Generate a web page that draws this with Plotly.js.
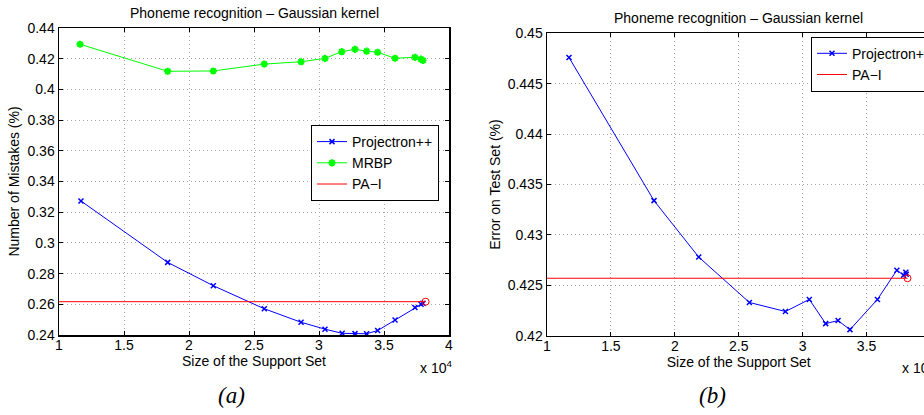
<!DOCTYPE html>
<html>
<head>
<meta charset="utf-8">
<script src="https://cdn.plot.ly/plotly-3.0.1.min.js"></script>
<style>
html, body { margin:0; padding:0; overflow:hidden; background:#fff; }
#chart { width:940px; height:415px; }
</style>
</head>
<body>
<div id="chart"></div>
<script>
// ---- Data (support set sizes, raw units) ----
const projX_a = [11690, 18360, 21870, 25790, 28620, 30460, 31780, 32770, 33660, 34510, 35850, 37380, 37850, 38000];
const proj_a  = [0.3273, 0.2873, 0.2721, 0.2571, 0.2483, 0.2438, 0.2411, 0.2409, 0.2408, 0.2429, 0.2498, 0.2579, 0.2600, 0.2607];
const mrbpX_a = [11620, 18360, 21870, 25790, 28620, 30460, 31750, 32770, 33660, 34510, 35850, 37380, 37850, 38000];
const mrbp_a  = [0.4294, 0.4118, 0.4120, 0.4165, 0.4180, 0.4202, 0.4246, 0.4261, 0.4249, 0.4242, 0.4203, 0.4209, 0.4197, 0.4189];
const paX_a   = [10000, 38200];
const pa_a    = [0.2617, 0.2617];

const projX_b = [11720, 18370, 21870, 25830, 28650, 30520, 31800, 32770, 33700, 35850, 37370, 37890, 38070, 38100];
const proj_b  = [0.4476, 0.4334, 0.4278, 0.4233, 0.4224, 0.4236, 0.4212, 0.4215, 0.4206, 0.4236, 0.4265, 0.4260, 0.4263, 0.4261];
const paX_b   = [10000, 38200];
const pa_b    = [0.4257, 0.4257];

// ---- Tick labels ----
const xTickVals_a = [10000, 15000, 20000, 25000, 30000, 35000, 40000];
const xTickText_a = ['1', '1.5', '2', '2.5', '3', '3.5', '4'];
const xTickVals_b = [10000, 15000, 20000, 25000, 30000, 35000];
const xTickText_b = ['1', '1.5', '2', '2.5', '3', '3.5'];
const yTickVals_a = [0.24, 0.26, 0.28, 0.30, 0.32, 0.34, 0.36, 0.38, 0.40, 0.42, 0.44];
const yTickText_a = ['0.24', '0.26', '0.28', '0.3', '0.32', '0.34', '0.36', '0.38', '0.4', '0.42', '0.44'];
const yTickVals_b = [0.42, 0.425, 0.43, 0.435, 0.44, 0.445, 0.45];
const yTickText_b = ['0.42', '0.425', '0.43', '0.435', '0.44', '0.445', '0.45'];

const FONT = 'Liberation Sans, Arial, Helvetica, sans-serif';
const W = 940, H = 415;

const blue = '#0000ff', green = '#00ff00', red = '#ff0000';

const traces = [
  { x: projX_a, y: proj_a, name: 'Projectron++', mode: 'lines+markers', xaxis: 'x', yaxis: 'y', legend: 'legend',
    line: { color: blue, width: 1 }, marker: { symbol: 'x-thin-open', size: 5, color: blue, line: { color: blue, width: 1.5 } } },
  { x: mrbpX_a, y: mrbp_a, name: 'MRBP', mode: 'lines+markers', xaxis: 'x', yaxis: 'y', legend: 'legend',
    line: { color: green, width: 1 }, marker: { symbol: 'asterisk-open', size: 6, color: green, line: { color: green, width: 2 } } },
  { x: paX_a, y: pa_a, name: 'PA\u2212I', mode: 'lines', xaxis: 'x', yaxis: 'y', legend: 'legend',
    line: { color: red, width: 1 } },
  { x: [paX_a[1]], y: [pa_a[1]], name: 'PA\u2212I', mode: 'markers', xaxis: 'x', yaxis: 'y', showlegend: false,
    marker: { symbol: 'circle-open', size: 7, color: red, line: { color: red, width: 1 } } },

  { x: projX_b, y: proj_b, name: 'Projectron++', mode: 'lines+markers', xaxis: 'x2', yaxis: 'y2', legend: 'legend2',
    line: { color: blue, width: 1 }, marker: { symbol: 'x-thin-open', size: 5, color: blue, line: { color: blue, width: 1.5 } } },
  { x: paX_b, y: pa_b, name: 'PA\u2212I', mode: 'lines', xaxis: 'x2', yaxis: 'y2', legend: 'legend2',
    line: { color: red, width: 1 } },
  { x: [paX_b[1]], y: [pa_b[1]], name: 'PA\u2212I', mode: 'markers', xaxis: 'x2', yaxis: 'y2', showlegend: false,
    marker: { symbol: 'circle-open', size: 7, color: red, line: { color: red, width: 1 } } }
];

function xAxis(dom, tv, tt) {
  return {
    domain: dom, range: [10000, 40000], tickmode: 'array', tickvals: tv, ticktext: tt,
    showline: true, linecolor: '#000', linewidth: 1.5, mirror: 'ticks', ticks: 'inside', ticklen: 4, tickcolor: '#000',
    showgrid: true, gridcolor: '#a8a8a8', griddash: '1px,3px', gridwidth: 1, zeroline: false,
    tickfont: { family: FONT, size: 14, color: '#000' }, ticklabelstandoff: -3,
    title: { text: 'Size of the Support Set', font: { family: FONT, size: 14, color: '#000' }, standoff: 0 },
    automargin: false
  };
}
function yAxis(dom, range, tv, tt, title, anchor) {
  return {
    domain: dom, range: range, tickmode: 'array', tickvals: tv, ticktext: tt, anchor: anchor,
    showline: true, linecolor: '#000', linewidth: 1.5, mirror: 'ticks', ticks: 'inside', ticklen: 4, tickcolor: '#000',
    showgrid: true, gridcolor: '#a8a8a8', griddash: '1px,3px', gridwidth: 1, zeroline: false,
    tickfont: { family: FONT, size: 14, color: '#000' },
    title: { text: title, font: { family: FONT, size: 14, color: '#000' }, standoff: 4 },
    automargin: false
  };
}

const layout = {
  width: W, height: H,
  margin: { l: 0, r: 0, t: 0, b: 0 },
  paper_bgcolor: '#fff', plot_bgcolor: '#fff',
  font: { family: FONT, size: 14, color: '#000' },
  xaxis: Object.assign(xAxis([59 / W, 449 / W], xTickVals_a, xTickText_a), { anchor: 'y' }),
  yaxis: yAxis([80 / H, 387 / H], [0.24, 0.44], yTickVals_a, yTickText_a, 'Number of Mistakes (%)', 'x'),
  xaxis2: Object.assign(xAxis([547 / W, 930.5 / W], xTickVals_b, xTickText_b), { anchor: 'y2' }),
  yaxis2: yAxis([79.3 / H, 381.7 / H], [0.42, 0.45], yTickVals_b, yTickText_b, 'Error on Test Set (%)', 'x2'),
  legend: {
    x: 311 / W, y: (H - 125) / H, xanchor: 'left', yanchor: 'top',
    bgcolor: '#fff', bordercolor: '#000', borderwidth: 1,
    font: { family: FONT, size: 14, color: '#000' }, tracegroupgap: 0
  },
  legend2: {
    x: 811 / W, y: (H - 36.7) / H, xanchor: 'left', yanchor: 'top',
    bgcolor: '#fff', bordercolor: '#000', borderwidth: 1,
    font: { family: FONT, size: 14, color: '#000' }, tracegroupgap: 0
  },
  showlegend: true,
  annotations: [
    { text: 'Phoneme recognition \u2013 Gaussian kernel', xref: 'paper', yref: 'paper', x: 254 / W, y: (H - 13) / H,
      xanchor: 'center', yanchor: 'middle', showarrow: false, font: { family: FONT, size: 14, color: '#000' } },
    { text: 'Phoneme recognition \u2013 Gaussian kernel', xref: 'paper', yref: 'paper', x: 738.5 / W, y: (H - 18) / H,
      xanchor: 'center', yanchor: 'middle', showarrow: false, font: { family: FONT, size: 14, color: '#000' } },
    { text: 'x 10<sup>4</sup>', xref: 'paper', yref: 'paper', x: 418 / W, y: (H - 367) / H,
      xanchor: 'left', yanchor: 'middle', showarrow: false, font: { family: FONT, size: 14, color: '#000' } },
    { text: 'x 10<sup>4</sup>', xref: 'paper', yref: 'paper', x: 900 / W, y: (H - 367) / H,
      xanchor: 'left', yanchor: 'middle', showarrow: false, font: { family: FONT, size: 14, color: '#000' } },
    { text: '<i>(a)</i>', xref: 'paper', yref: 'paper', x: 231 / W, y: (H - 395) / H,
      xanchor: 'center', yanchor: 'middle', showarrow: false, font: { family: 'Liberation Serif, DejaVu Serif, serif', size: 23, color: '#000' } },
    { text: '<i>(b)</i>', xref: 'paper', yref: 'paper', x: 712 / W, y: (H - 395) / H,
      xanchor: 'center', yanchor: 'middle', showarrow: false, font: { family: 'Liberation Serif, DejaVu Serif, serif', size: 23, color: '#000' } }
  ]
};

Plotly.newPlot('chart', traces, layout, { displayModeBar: false, staticPlot: true });
</script>
</body>
</html>
